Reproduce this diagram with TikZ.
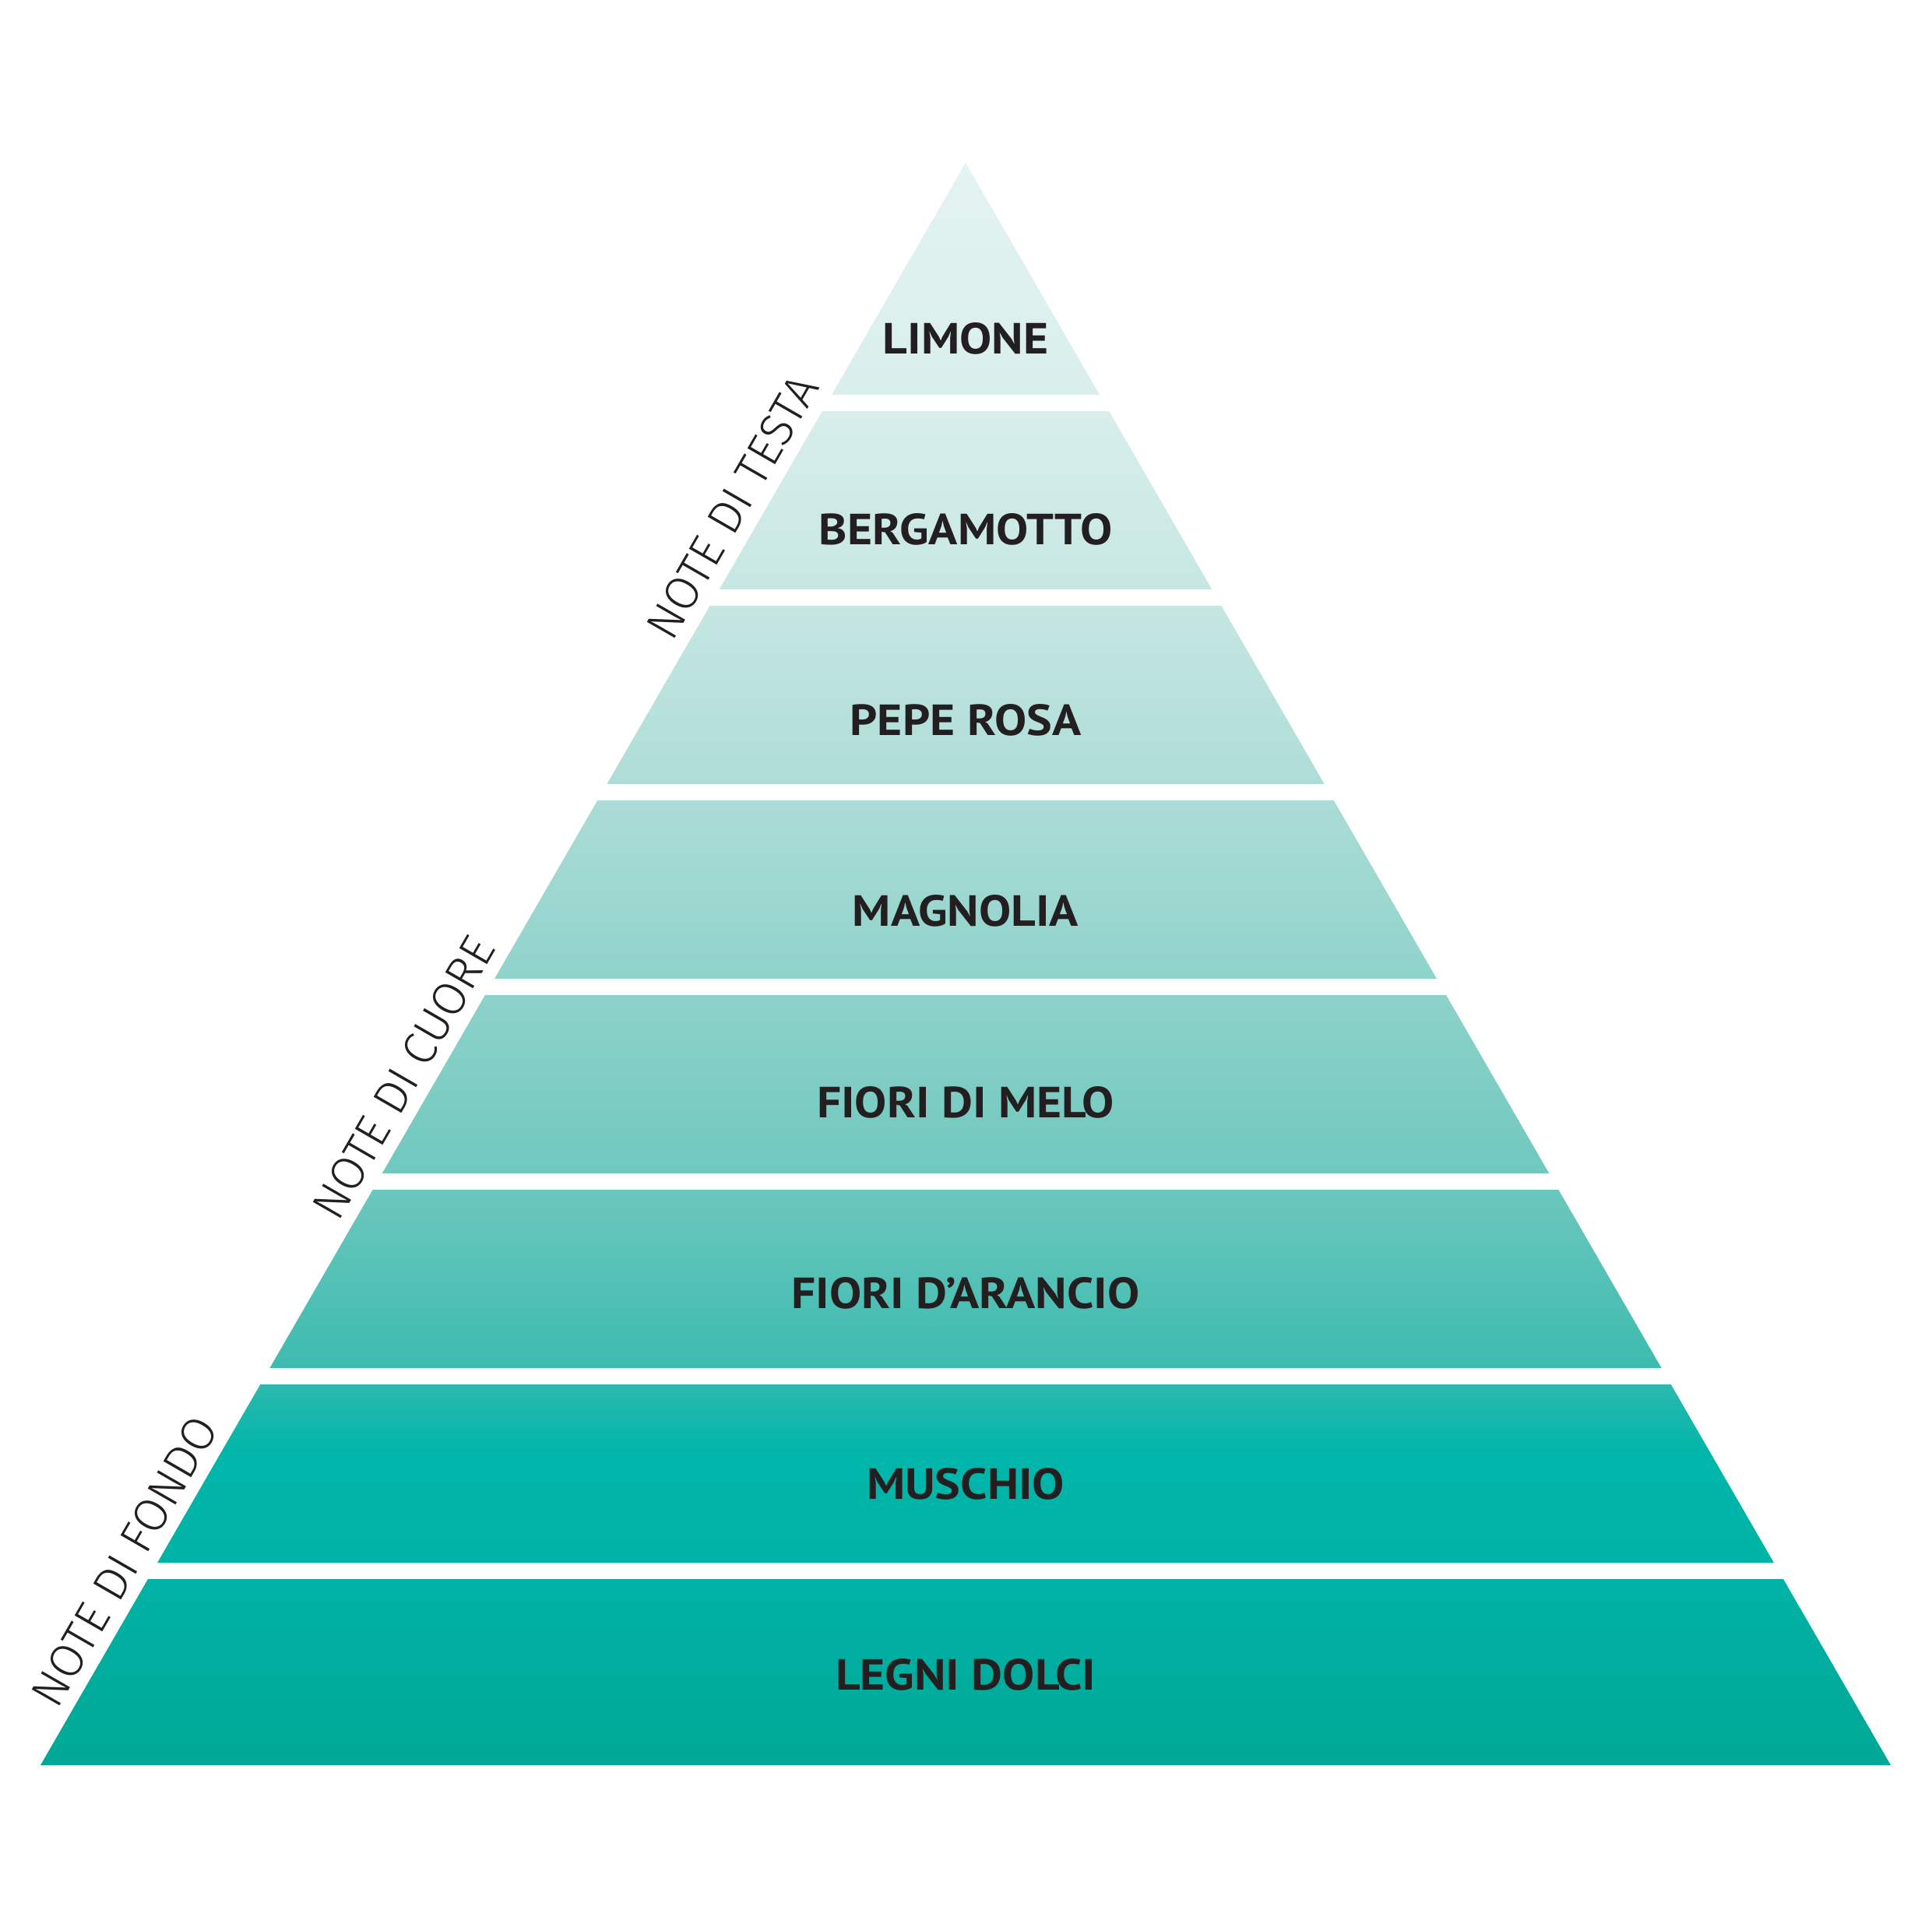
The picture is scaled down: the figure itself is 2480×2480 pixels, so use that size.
\documentclass[tikz,border=0pt]{standalone}
\usepackage{fontspec}
\IfFontExistsTF{Fira Sans Book}{\newfontfamily\sidef{Fira Sans Book}}{%
  \IfFontExistsTF{Fira Sans Light}{\newfontfamily\sidef{Fira Sans Light}}{\newfontfamily\sidef{PT Sans}}}
\newfontfamily\labf{PT Sans}[FakeStretch=1.1]
\definecolor{txt}{HTML}{231F20}
\definecolor{g0}{HTML}{00A896}
\definecolor{g1}{HTML}{00B3A7}
\definecolor{g2}{HTML}{00B5A9}
\definecolor{g3}{HTML}{1FB8AC}
\definecolor{g4}{HTML}{3DBBAF}
\definecolor{g5}{HTML}{70C8BE}
\definecolor{g6}{HTML}{8FD3CB}
\definecolor{g7}{HTML}{AEDDD7}
\definecolor{g8}{HTML}{C7E7E3}
\definecolor{g9}{HTML}{D9EFEC}
\definecolor{g10}{HTML}{E3F3F1}
\pgfdeclareverticalshading{pyr}{100bp}{color(0bp)=(g0); color(25bp)=(g0); color(31.32bp)=(g1); color(34.65bp)=(g2); color(36.35bp)=(g3); color(37.39bp)=(g4); color(43.46bp)=(g5); color(49.54bp)=(g6); color(55.61bp)=(g7); color(61.69bp)=(g8); color(67.76bp)=(g9); color(75bp)=(g10); color(100bp)=(g10)}
\tikzset{
  lab/.style={anchor=base, inner sep=0pt, text=txt, font=\labf\bfseries\fontsize{56}{60}\selectfont},
  side/.style={anchor=center, inner sep=0pt, text depth=0pt, rotate=60, text=txt, font=\sidef\fontsize{60}{64}\selectfont},
  gap/.style={fill=white}
}
\begin{document}
\begin{tikzpicture}[x=1pt,y=-1pt]
\path[use as bounding box] (0,0) rectangle (2480,2480);
\shade[shading=pyr] (1240,209) -- (2428,2267) -- (52,2267) -- cycle;
\foreach \a in {507,757,1007,1257,1507,1757,2007}{
  \fill[gap] (0,\a) rectangle (2480,\a+21);
}
\node[lab] (l1) at (1240,454.5) {LIMONE};
\node[lab] (l2) at (1240,699.5) {BERGAMOTTO};
\node[lab] (l3) at (1240,944.5) {PEPE ROSA};
\node[lab] (l4) at (1240,1189.5) {MAGNOLIA};
\node[lab] (l5) at (1240,1435) {FIORI DI MELO};
\node[lab] (l6) at (1240,1680.5) {FIORI D’ARANCIO};
\node[lab] (l7) at (1240,1925.5) {MUSCHIO};
\node[lab] (l8) at (1240,2170.5) {LEGNI DOLCI};
\node[side] (s1) at (940,651) {NOTE DI TESTA};
\node[side] (s2) at (518,1384) {NOTE DI CUORE};
\node[side] (s3) at (160,2005) {NOTE DI FONDO};
\end{tikzpicture}
\end{document}
